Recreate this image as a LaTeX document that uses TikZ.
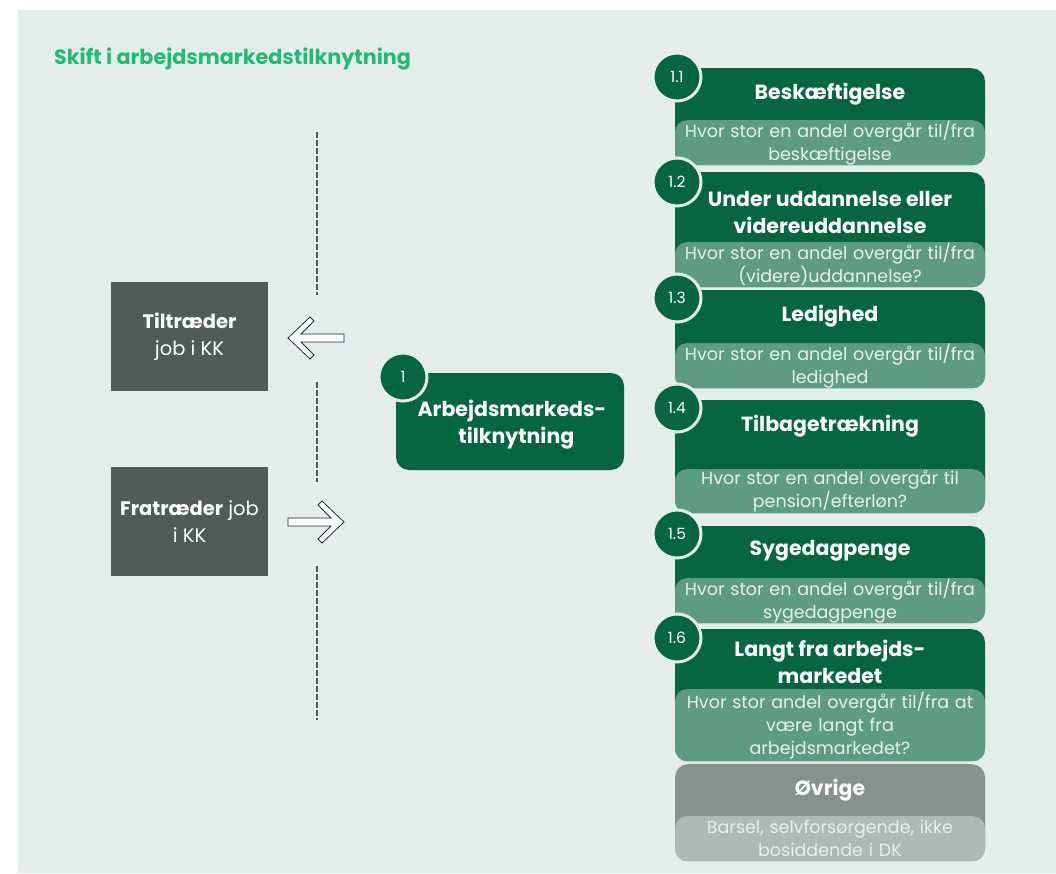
\documentclass[tikz,border=0pt]{standalone}
\usepackage{fontspec}
\setmainfont{Poppins}
\usetikzlibrary{positioning}

\definecolor{panelbg}{HTML}{E4EDEA}
\definecolor{dkgreen}{HTML}{066642}
\definecolor{ltgreen}{HTML}{5E9B83}
\definecolor{qtext}{HTML}{E6F0EB}
\definecolor{titlegreen}{HTML}{1EBD72}
\definecolor{jobgrey}{HTML}{525B57}
\definecolor{othergrey}{HTML}{87918E}
\definecolor{otherlight}{HTML}{AEB8B4}
\definecolor{arrowline}{HTML}{1E2B3A}
\definecolor{cutgrey}{HTML}{4D5753}

\begin{document}
\begin{tikzpicture}[x=1pt, y=-1pt,
    topbox/.style={fill=dkgreen, rounded corners=13pt, minimum width=310pt, anchor=north, inner sep=0pt},
    qbox/.style={fill=ltgreen, rounded corners=12pt, minimum width=310pt, text width=308pt, align=center, anchor=north, inner sep=0pt, text=qtext, font=\fontsize{17.5}{23}\selectfont},
    headtxt/.style={text=white, align=center, font=\bfseries\fontsize{20.5}{27}\selectfont},
    numcirc/.style={circle, fill=dkgreen, draw=panelbg, line width=3pt, minimum size=48pt, inner sep=0pt, text=white, font=\fontsize{15.5}{17}\selectfont},
    jobbox/.style={fill=jobgrey, minimum width=157pt, minimum height=109pt, text=white, align=center, font=\fontsize{19.5}{27}\selectfont},
    divider/.style={draw=cutgrey, dash pattern=on 6pt off 2pt, line width=1.5pt},
    hollowarrow/.style={draw=arrowline, fill=white, line width=0.8pt, line join=miter}]
  \useasboundingbox (0,0) rectangle (1056,873);
  \fill[white] (0,0) rectangle (1056,873);
  \fill[panelbg] (18,10) rectangle (1056,873);

  \node[anchor=west, inner sep=0pt, text=titlegreen, font=\bfseries\fontsize{20.7}{24}\selectfont] (title) at (54,59) {Skift i arbejdsmarkedstilknytning};

  % left side: joining / leaving
  \node[jobbox] (tiltr) at (189.5,336.5) {\textbf{Tiltræder}\\job i KK};
  \node[jobbox] (fratr) at (189.5,521.5) {\textbf{Fratræder} job\\i KK};

  \coordinate (cut1a) at (317,132);
  \coordinate (cut1b) at (317,295);
  \coordinate (cut2a) at (317,382);
  \coordinate (cut2b) at (317,482);
  \coordinate (cut3a) at (317,566);
  \coordinate (cut3b) at (317,720);
  \draw[divider] (cut1a) -- (cut1b);
  \draw[divider] (cut2a) -- (cut2b);
  \draw[divider] (cut3a) -- (cut3b);

  \coordinate (intip) at (288,338);
  \draw[hollowarrow] (intip) -- ++(22,-21) -- ++(4,4) -- ++(-13,13) -- ++(43,0) -- ++(0,8) -- ++(-43,0) -- ++(13,13) -- ++(-4,4) -- cycle;
  \coordinate (outtip) at (344,522);
  \draw[hollowarrow] (outtip) -- ++(-22,-21) -- ++(-4,4) -- ++(13,13) -- ++(-43,0) -- ++(0,8) -- ++(43,0) -- ++(-13,13) -- ++(4,4) -- cycle;

  % centre box
  \node[fill=dkgreen, rounded corners=13pt, minimum width=228pt, minimum height=97pt] (arb) at (510,421.5) {};
  \node[headtxt] (arbh) at (512,425) {Arbejdsmarkeds-\\\ \ tilknytning};
  \node[numcirc] (n1) at (403,377) {1};

  % right column
  \node[topbox, minimum height=97pt] (besk) at (830,68) {};
  \node[qbox, minimum height=45pt] (beskq) at (830,120) {Hvor stor en andel overgår til/fra\\beskæftigelse};
  \node[headtxt] (beskh) at (830,94) {Beskæftigelse};
  \node[numcirc] (n11) at (677,77) {1.1};

  \node[topbox, minimum height=115pt] (udd) at (830,172) {};
  \node[qbox, minimum height=45pt] (uddq) at (830,242) {Hvor stor en andel overgår til/fra\\(videre)uddannelse?};
  \node[headtxt] (uddh) at (830,212) {Under uddannelse eller\\videreuddannelse};
  \node[numcirc] (n12) at (677,182) {1.2};

  \node[topbox, minimum height=98pt] (led) at (830,290) {};
  \node[qbox, minimum height=45pt] (ledq) at (830,343) {Hvor stor en andel overgår til/fra\\ledighed};
  \node[headtxt] (ledh) at (830,316) {Ledighed};
  \node[numcirc] (n13) at (677,298) {1.3};

  \node[topbox, minimum height=113pt] (tilb) at (830,400) {};
  \node[qbox, minimum height=44pt] (tilbq) at (830,469) {Hvor stor en andel overgår til\\pension/efterløn?};
  \node[headtxt] (tilbh) at (830,426) {Tilbagetrækning};
  \node[numcirc] (n14) at (677,408) {1.4};

  \node[topbox, minimum height=97pt] (syg) at (830,526) {};
  \node[qbox, minimum height=45pt] (sygq) at (830,578) {Hvor stor en andel overgår til/fra\\sygedagpenge};
  \node[headtxt] (sygh) at (830,551) {Sygedagpenge};
  \node[numcirc] (n15) at (677,534) {1.5};

  \node[topbox, minimum height=132pt] (langt) at (830,629) {};
  \node[qbox, minimum height=72pt] (langtq) at (830,689) {Hvor stor andel overgår til/fra at\\være langt fra\\arbejdsmarkedet?};
  \node[headtxt] (langth) at (830,662) {Langt fra arbejds-\\markedet};
  \node[numcirc] (n16) at (677,638) {1.6};

  \node[topbox, fill=othergrey, minimum height=97pt] (ovr) at (830,764) {};
  \node[qbox, fill=otherlight, minimum height=45pt] (ovrq) at (830,816) {Barsel, selvforsørgende, ikke\\bosiddende i DK};
  \node[headtxt] (ovrh) at (830,790) {Øvrige};
\end{tikzpicture}
\end{document}
